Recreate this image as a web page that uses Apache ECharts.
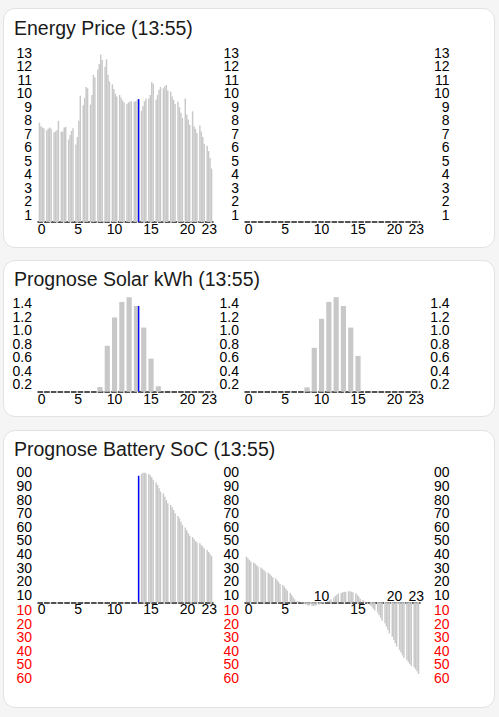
<!DOCTYPE html>
<html>
<head>
<meta charset="utf-8">
<script src="https://cdn.jsdelivr.net/npm/echarts@6/dist/echarts.min.js"></script>
<style>
html,body{margin:0;padding:0;background:#f5f5f5;width:499px;height:717px;overflow:hidden}
.card{position:absolute;left:3px;width:492px;background:#fff;border:1px solid #e2e2e2;border-radius:12px;box-sizing:border-box}
#chart{position:absolute;left:0;top:0;width:499px;height:717px}
</style>
</head>
<body>
<div class="card" style="top:8px;height:240px"></div>
<div class="card" style="top:260px;height:157px"></div>
<div class="card" style="top:430px;height:278px"></div>
<div id="chart"></div>
<script>
// ---------------- data ----------------
const NOW = '13:55';
const HOURS = ['0','1','2','3','4','5','6','7','8','9','10','11','12','13','14','15','16','17','18','19','20','21','22','23'];
const X_TICKS = [0, 5, 10, 15, 20, 23];

const TITLES = ['Energy Price', 'Prognose Solar kWh', 'Prognose Battery SoC'];

// Energy price per hour, four quarter-hour values each (today)
const PRICE_TODAY = [
  [7.35, 7.1, 7.0, 6.95],
  [6.8, 6.9, 7.0, 6.9],
  [6.65, 6.7, 6.8, 7.5],
  [6.7, 6.7, 7.0, 7.05],
  [6.1, 6.45, 6.75, 6.95],
  [5.75, 6.3, 7.5, 9.35],
  [8.65, 9.2, 10.0, 9.9],
  [8.7, 9.4, 10.9, 10.7],
  [11.3, 11.7, 12.4, 12.0],
  [11.5, 12.05, 10.9, 10.4],
  [10.2, 9.85, 9.5, 9.3],
  [9.4, 9.2, 9.0, 8.85],
  [8.75, 8.85, 8.9, 8.95],
  [8.9, 8.95, 9.05, 9.1],
  [8.25, 8.6, 8.95, 9.15],
  [9.15, 9.4, 10.35, 10.25],
  [9.05, 9.4, 9.8, 10.0],
  [9.9, 10.05, 10.15, 9.75],
  [9.65, 9.3, 9.05, 8.75],
  [8.9, 8.5, 8.1, 7.7],
  [9.15, 7.95, 7.6, 7.2],
  [8.2, 7.1, 6.9, 6.6],
  [7.15, 6.7, 6.3, 5.8],
  [5.65, 5.25, 4.75, 3.95]
];
// no prices known for tomorrow yet
const PRICE_TOMORROW = [];

// Solar forecast kWh per hour
const SOLAR_TODAY    = [0,0,0,0,0,0,0,0,0.07,0.68,1.10,1.33,1.40,1.27,0.95,0.49,0.08,0,0,0,0,0,0,0];
const SOLAR_TOMORROW = [0,0,0,0,0,0,0,0,0.065,0.65,1.08,1.33,1.40,1.27,0.95,0.53,0,0,0,0,0,0,0,0];

// Battery SoC forecast per hour, four quarter-hour values each
const SOC_TODAY = [
  null,null,null,null,null,null,null,null,null,null,null,null,null,
  [null, null, null, 93],
  [94.4, 95.3, 95.3, 94.9],
  [94.4, 93.4, 91.9, 90.0],
  [88.0, 86.3, 83.8, 81.4],
  [80.1, 77.7, 75.2, 72.8],
  [71.6, 69.9, 67.9, 65.4],
  [63.5, 61.8, 59.3, 56.9],
  [55.0, 53.0, 51.0, 49.0],
  [48.0, 46.5, 45.0, 44.0],
  [43.5, 42.0, 41.0, 39.5],
  [38.5, 37.0, 35.5, 34.0]
];
const SOC_TOMORROW = [
  [33.6, 32.4, 31.1, 29.9],
  [29.2, 28.3, 27.3, 26.2],
  [25.5, 24.5, 23.5, 22.5],
  [21.8, 20.8, 19.6, 18.4],
  [17.6, 16.4, 15.0, 13.5],
  [12.7, 11.5, 10.0, 8.6],
  [7.1, 5.4, 3.7, 2.2],
  [1.2, 0.5, -0.2, -0.7],
  [-1.2, -1.7, -2.2, -2.5],
  [-2.7, -2.7, -2.5, -2.2],
  [-1.7, -1.2, -0.7, -0.2],
  [0.3, 0.8, 1.5, 2.3],
  [3.4, 4.7, 5.6, 6.4],
  [6.9, 7.4, 7.6, 7.8],
  [8.1, 8.1, 7.8, 7.4],
  [6.6, 5.4, 4.2, 2.7],
  [1.7, 0.7, -0.2, -1.2],
  [-2.2, -3.2, -4.7, -6.1],
  [-7.6, -9.3, -11.3, -13.5],
  [-15.4, -17.9, -20.3, -22.8],
  [-25.2, -27.7, -30.1, -32.6],
  [-35.0, -37.0, -39.0, -40.9],
  [-42.4, -43.9, -45.3, -46.8],
  [-47.8, -49.3, -50.7, -52.7]
];

// y-axis tick ranges (integer labels are shown two characters wide)
const PRICE_TICKS = {min: 0, max: 13, interval: 1, digits: 0};
const SOLAR_TICKS = {min: 0, max: 1.4, interval: 0.2, digits: 1};
const SOC_TICKS   = {min: -60, max: 100, interval: 10, digits: 0};

// ---------------- layout / style ----------------
const FONT = '"Liberation Sans", Arial, Helvetica, sans-serif';
const LABEL_SIZE = 14;
const GRAY = '#c8c8c8';
const BLUE = '#0000ff';
const PANELS = [
  {top: 46.5,  height: 175.5, ticks: PRICE_TICKS, kind: 'quarter', today: PRICE_TODAY, tomorrow: PRICE_TOMORROW, titleTop: 17.5},
  {top: 297.2, height: 94.5,  ticks: SOLAR_TICKS, kind: 'hour',    today: SOLAR_TODAY, tomorrow: SOLAR_TOMORROW, titleTop: 269},
  {top: 466.3, height: 217.6, ticks: SOC_TICKS,   kind: 'quarter', today: SOC_TODAY,   tomorrow: SOC_TOMORROW,   titleTop: 438.5}
];
const COLUMNS = [{day: 'today', left: 38}, {day: 'tomorrow', left: 245}];
const RIGHT_AXIS_LEFT = 455.6;
const nowH = parseInt(NOW.split(':')[0], 10);
const nowQ = Math.floor(parseInt(NOW.split(':')[1], 10) / 15);

function hourValue(p, arr, h) {
  if (p.kind === 'hour') return arr[h] == null ? null : arr[h];
  const r = arr[h];
  return r ? r[0] : null;
}
function nowValue(p, arr) {
  if (p.kind === 'hour') return arr[nowH];
  const r = arr[nowH];
  return r ? r[nowQ] : null;
}
function tickList(t) {
  const n = Math.round((t.max - t.min) / t.interval);
  const out = [];
  for (let k = 0; k <= n; k++) out.push((t.min + k * t.interval).toFixed(t.digits));
  return out;
}

const option = {
  backgroundColor: 'transparent', animation: false, textStyle: {fontFamily: FONT},
  title: [], grid: [], xAxis: [], yAxis: [], series: []
};

// one hidden value axis for the marks + two label-only tick axes (positive black, negative red)
function addYAxes(gi, ticks) {
  const fmt = s => {
    const v = Math.abs(parseFloat(s));
    return ticks.digits === 0 ? String(Math.round(v)).slice(-2) : v.toFixed(ticks.digits);
  };
  const vi = option.yAxis.length;
  option.yAxis.push({
    gridIndex: gi, type: 'value', show: false,
    min: ticks.min, max: ticks.max, interval: ticks.interval,
    axisLine: {show: false}, splitLine: {show: false}
  });
  const cats = tickList(ticks);
  const base = {
    gridIndex: gi, type: 'category', data: cats, boundaryGap: false, position: 'left',
    axisLine: {show: false}, axisTick: {show: false}, splitLine: {show: false}
  };
  const lab = {interval: 0, margin: 6, fontSize: LABEL_SIZE, lineHeight: 12, fontFamily: FONT};
  option.yAxis.push(Object.assign({}, base, {axisLabel: Object.assign({}, lab, {color: '#000', verticalAlign: 'top',
    formatter: s => parseFloat(s) > 1e-9 ? fmt(s) : ''})}));
  option.yAxis.push(Object.assign({}, base, {axisLabel: Object.assign({}, lab, {color: '#ff0000', verticalAlign: 'bottom',
    formatter: s => parseFloat(s) < -1e-9 ? fmt(s) : ''})}));
  return vi;
}

PANELS.forEach((p, pi) => {
  option.title.push({
    text: TITLES[pi] + ' (' + NOW + ')', left: 14, top: p.titleTop, padding: 0,
    textStyle: {fontSize: 19.5, fontWeight: 'normal', color: '#1a1a1a', fontFamily: FONT}
  });
  const t = p.ticks;
  // hour axes sit on the zero line of the value scale
  const offBottom = -p.height * (0 - t.min) / (t.max - t.min);
  const offTop = -p.height * (t.max - 0) / (t.max - t.min);

  COLUMNS.forEach(col => {
    const arr = p[col.day];
    const gi = option.grid.length;
    option.grid.push({left: col.left, width: 175, top: p.top, height: p.height, containLabel: false, outerBoundsMode: 'none'});
    const below = h => { const v = hourValue(p, arr, h); return v == null || v >= 0; };
    const xb = option.xAxis.length;
    option.xAxis.push({
      gridIndex: gi, type: 'category', data: HOURS, position: 'bottom', boundaryGap: true, offset: offBottom,
      axisLine: {show: true, onZero: false, lineStyle: {color: '#1a1a1a', width: 1.5, type: [4.5, 2.2]}},
      axisTick: {show: false}, splitLine: {show: false},
      axisLabel: {interval: 0, margin: 1, fontSize: LABEL_SIZE, lineHeight: 12, fontFamily: FONT, color: '#000',
        formatter: (v, idx) => (X_TICKS.indexOf(idx) >= 0 && below(idx)) ? v : ''}
    });
    option.xAxis.push({
      gridIndex: gi, type: 'category', data: HOURS, position: 'top', boundaryGap: true, offset: offTop,
      axisLine: {show: false, onZero: false},
      axisTick: {show: false}, splitLine: {show: false},
      axisLabel: {interval: 0, margin: 0, fontSize: LABEL_SIZE, lineHeight: 12, fontFamily: FONT, color: '#000',
        formatter: (v, idx) => (X_TICKS.indexOf(idx) >= 0 && !below(idx)) ? v : ''}
    });
    const xo = option.xAxis.length;
    option.xAxis.push({gridIndex: gi, type: 'category', data: HOURS, show: false, boundaryGap: true,
      axisLine: {onZero: false}});
    const yi = addYAxes(gi, t);

    if (p.kind === 'quarter') {
      for (let q = 0; q < 4; q++) {
        option.series.push({
          type: 'bar', xAxisIndex: xb, yAxisIndex: yi, silent: true,
          barGap: '0%', barCategoryGap: '20%', clip: false, itemStyle: {color: GRAY},
          data: HOURS.map((_, h) => (arr[h] ? arr[h][q] : null))
        });
      }
    } else {
      option.series.push({
        type: 'bar', xAxisIndex: xb, yAxisIndex: yi, silent: true,
        barCategoryGap: '29%', clip: false, itemStyle: {color: GRAY},
        data: HOURS.map((_, h) => arr[h])
      });
    }
    if (col.day === 'today') {
      const nv = nowValue(p, arr);
      if (nv != null) {
        for (let q = 0; q < 4; q++) {
          option.series.push({
            type: 'bar', xAxisIndex: xo, yAxisIndex: yi, silent: true, z: 5,
            barGap: '0%', barCategoryGap: '20%', clip: false, itemStyle: {color: BLUE},
            data: HOURS.map((_, h) => (h === nowH && q === nowQ) ? nv : null)
          });
        }
      }
    }
  });

  // right-hand value axis of the card
  const gr = option.grid.length;
  option.grid.push({left: RIGHT_AXIS_LEFT, width: 1, top: p.top, height: p.height, containLabel: false, outerBoundsMode: 'none'});
  option.xAxis.push({gridIndex: gr, type: 'category', data: HOURS, show: false});
  addYAxes(gr, t);
});

echarts.init(document.getElementById('chart'), null, {renderer: 'svg'}).setOption(option);
</script>
</body>
</html>
